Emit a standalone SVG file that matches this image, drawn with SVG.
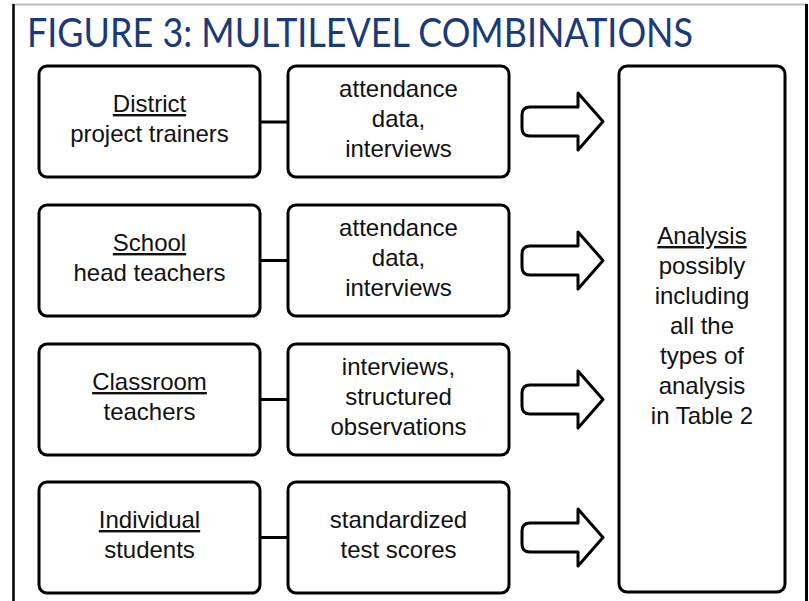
<svg xmlns="http://www.w3.org/2000/svg" width="809" height="601" viewBox="0 0 809 601">
<defs>
<style>
.box{fill:#fff;stroke:#000;stroke-width:3}
.t{font-family:"Liberation Sans",Arial,sans-serif;font-size:24px;fill:#111;text-anchor:middle}
.u{text-decoration:underline}
.conn{stroke:#000;stroke-width:3;fill:none}
.arr{fill:#fff;stroke:#000;stroke-width:3;stroke-linejoin:round}
</style>
<path id="arrow" class="arr" d="M530,-14.5 L578,-14.5 L578,-28.5 L603,0 L578,28.5 L578,14.5 L530,14.5 Q522,14.5 522,6.5 L522,-6.5 Q522,-14.5 530,-14.5 Z"/>
</defs>
<rect width="809" height="601" fill="#fff"/>
<g id="frame">
<line x1="12" y1="4.5" x2="807" y2="4.5" stroke="#bbb" stroke-width="2"/>
<line x1="13.5" y1="4" x2="13.5" y2="601" stroke="#000" stroke-width="2.5"/>
<line x1="806.5" y1="4" x2="806.5" y2="601" stroke="#000" stroke-width="3"/>
</g>
<text id="title" x="27" y="47" font-family="Lato,'Open Sans',sans-serif" font-size="40" fill="#1b3a7a" textLength="666" lengthAdjust="spacingAndGlyphs">FIGURE 3: MULTILEVEL COMBINATIONS</text>

<g id="connectors">
<line class="conn" x1="260" y1="122" x2="288" y2="122"/>
<line class="conn" x1="260" y1="260.5" x2="288" y2="260.5"/>
<line class="conn" x1="260" y1="399.5" x2="288" y2="399.5"/>
<line class="conn" x1="260" y1="537.5" x2="288" y2="537.5"/>
<use href="#arrow" transform="translate(0,121.5)"/>
<use href="#arrow" transform="translate(0,260.5)"/>
<use href="#arrow" transform="translate(0,399.5)"/>
<use href="#arrow" transform="translate(0,537.5)"/>
</g>

<g id="district">
<rect class="box" x="39" y="66" width="221" height="111" rx="8"/>
<text class="t" x="149.5" y="112"><tspan class="u">District</tspan></text>
<text class="t" x="149.5" y="142">project trainers</text>
</g>
<g id="district-data">
<rect class="box" x="288" y="66" width="221" height="111" rx="8"/>
<text class="t" x="398.5" y="97">attendance</text>
<text class="t" x="398.5" y="127">data,</text>
<text class="t" x="398.5" y="157">interviews</text>
</g>

<g id="school">
<rect class="box" x="39" y="205" width="221" height="111" rx="8"/>
<text class="t" x="149.5" y="251"><tspan class="u">School</tspan></text>
<text class="t" x="149.5" y="281">head teachers</text>
</g>
<g id="school-data">
<rect class="box" x="288" y="205" width="221" height="111" rx="8"/>
<text class="t" x="398.5" y="236">attendance</text>
<text class="t" x="398.5" y="266">data,</text>
<text class="t" x="398.5" y="296">interviews</text>
</g>

<g id="classroom">
<rect class="box" x="39" y="344" width="221" height="111" rx="8"/>
<text class="t" x="149.5" y="390"><tspan class="u">Classroom</tspan></text>
<text class="t" x="149.5" y="420">teachers</text>
</g>
<g id="classroom-data">
<rect class="box" x="288" y="344" width="221" height="111" rx="8"/>
<text class="t" x="398.5" y="375">interviews,</text>
<text class="t" x="398.5" y="405">structured</text>
<text class="t" x="398.5" y="435">observations</text>
</g>

<g id="individual">
<rect class="box" x="39" y="482" width="221" height="111" rx="8"/>
<text class="t" x="149.5" y="528"><tspan class="u">Individual</tspan></text>
<text class="t" x="149.5" y="558">students</text>
</g>
<g id="individual-data">
<rect class="box" x="288" y="482" width="221" height="111" rx="8"/>
<text class="t" x="398.5" y="528">standardized</text>
<text class="t" x="398.5" y="558">test scores</text>
</g>

<g id="analysis">
<rect class="box" x="619" y="66" width="166" height="526" rx="8"/>
<text class="t" x="702" y="244"><tspan class="u">Analysis</tspan></text>
<text class="t" x="702" y="274">possibly</text>
<text class="t" x="702" y="304">including</text>
<text class="t" x="702" y="334">all the</text>
<text class="t" x="702" y="364">types of</text>
<text class="t" x="702" y="394">analysis</text>
<text class="t" x="702" y="424">in Table 2</text>
</g>
</svg>
